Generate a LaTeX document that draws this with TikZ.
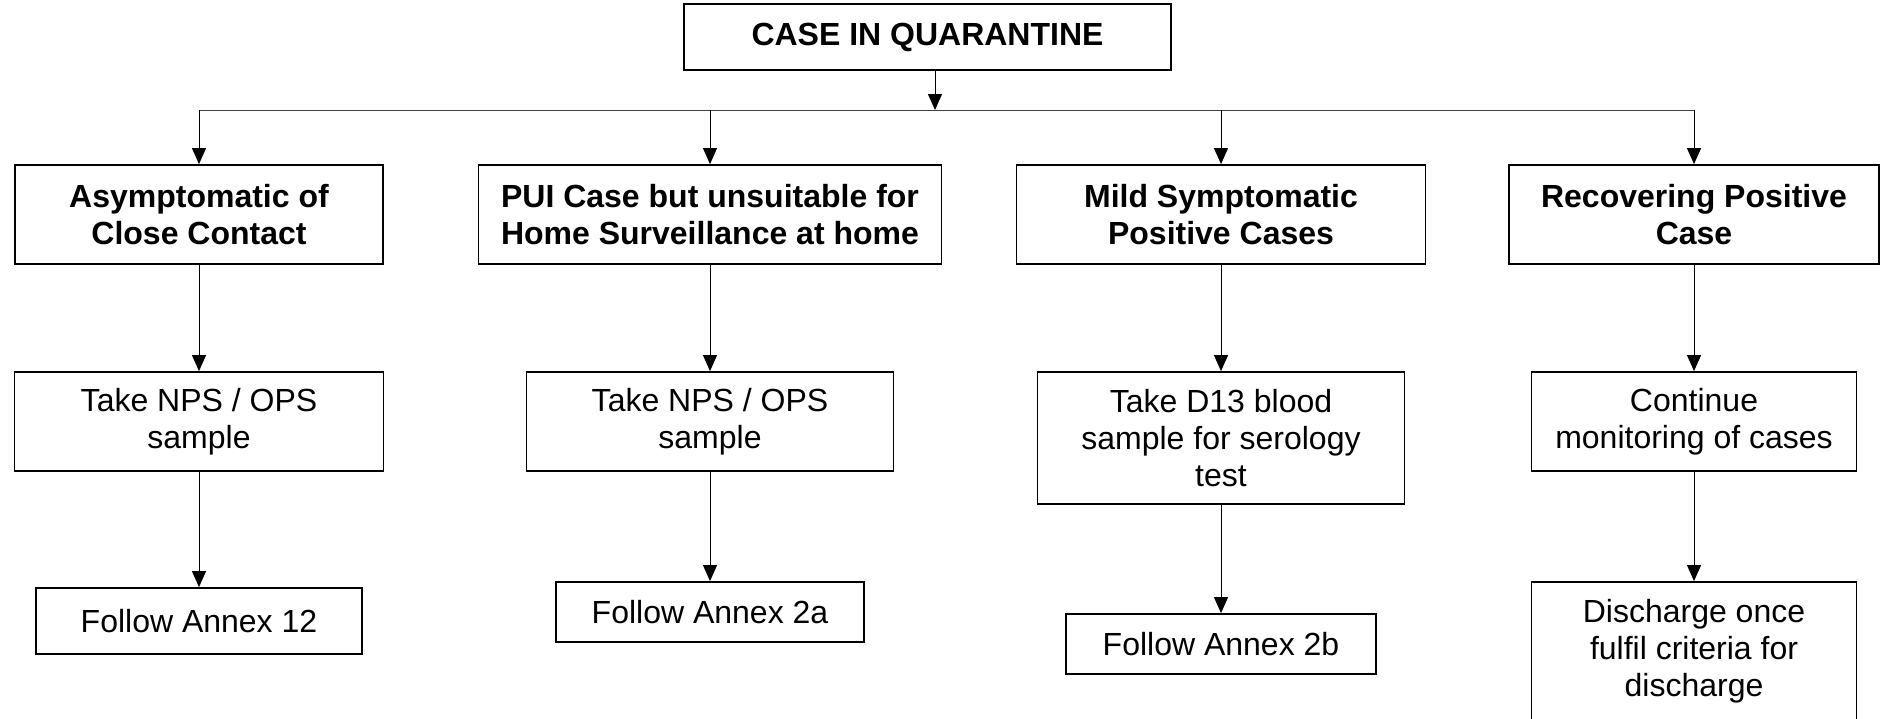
\documentclass[tikz,border=0pt]{standalone}
\usepackage{fontspec}
\setmainfont{Liberation Sans}
\usetikzlibrary{arrows.meta}

\begin{document}
\begin{tikzpicture}[x=0.5pt, y=-0.5pt,
    box/.style={draw, line width=0.9pt, align=center, inner sep=0pt, font=\fontsize{16}{18.4}\selectfont},
    head/.style={box, font=\fontsize{16}{18.4}\selectfont\bfseries},
    arr/.style={-{Triangle[length=8pt,width=7pt]}, line width=0.5pt}]
    \useasboundingbox (0,0) rectangle (1883,718);
    % top box and the bar below it
    \node [head, minimum width=243.5pt, minimum height=33pt] (quar) at (927.5,37) {CASE IN QUARANTINE};
    \coordinate (hub) at (935,110);
    \coordinate (j1) at (199,110);
    \coordinate (j2) at (710,110);
    \coordinate (j3) at (1221,110);
    \coordinate (j4) at (1694,110);
    % second row
    \node [head, minimum width=184pt,   minimum height=49.5pt] (asym) at (199,214.5)  {Asymptomatic of\\Close Contact};
    \node [head, minimum width=231.5pt, minimum height=49.5pt] (pui)  at (710,214.5)  {PUI Case but unsuitable for\\Home Surveillance at home};
    \node [head, minimum width=204.5pt, minimum height=49.5pt] (mild) at (1221,214.5) {Mild Symptomatic\\Positive Cases};
    \node [head, minimum width=185pt,   minimum height=49.5pt] (recv) at (1694,214.5) {Recovering Positive\\Case};
    % third row
    \node [box, minimum width=184.5pt, minimum height=49.5pt] (nps1)  at (199,421.5)  {Take NPS / OPS\\sample};
    \node [box, minimum width=183.5pt, minimum height=49.5pt] (nps2)  at (710,421.5)  {Take NPS / OPS\\sample};
    \node [box, minimum width=183.5pt, minimum height=66pt]   (blood) at (1221,438)   {Take D13 blood\\sample for serology\\test};
    \node [box, minimum width=162.5pt, minimum height=49.5pt] (mon)   at (1694,421.5) {Continue\\monitoring of cases};
    % last row
    \node [box, minimum width=163pt,   minimum height=33pt] (ann12) at (199,621)  {Follow Annex 12};
    \node [box, minimum width=154pt,   minimum height=30pt] (ann2a) at (710,612)  {Follow Annex 2a};
    \node [box, minimum width=155pt,   minimum height=30pt] (ann2b) at (1221,644) {Follow Annex 2b};
    \node [box, minimum width=162.5pt, minimum height=69pt] (disch) at (1694,651) {Discharge once\\fulfil criteria for\\discharge};

    \draw[arr] (quar.south -| hub) -- (hub);
    \draw[line width=0.5pt, black!75] (j1) -- (j4);
    \draw[arr] (j1) -- (asym.north);
    \draw[arr] (j2) -- (pui.north);
    \draw[arr] (j3) -- (mild.north);
    \draw[arr] (j4) -- (recv.north);
    \draw[arr] (asym) -- (nps1);
    \draw[arr] (pui) -- (nps2);
    \draw[arr] (mild) -- (blood);
    \draw[arr] (recv) -- (mon);
    \draw[arr] (nps1) -- (ann12);
    \draw[arr] (nps2) -- (ann2a);
    \draw[arr] (blood) -- (ann2b);
    \draw[arr] (mon) -- (disch);
\end{tikzpicture}
\end{document}
